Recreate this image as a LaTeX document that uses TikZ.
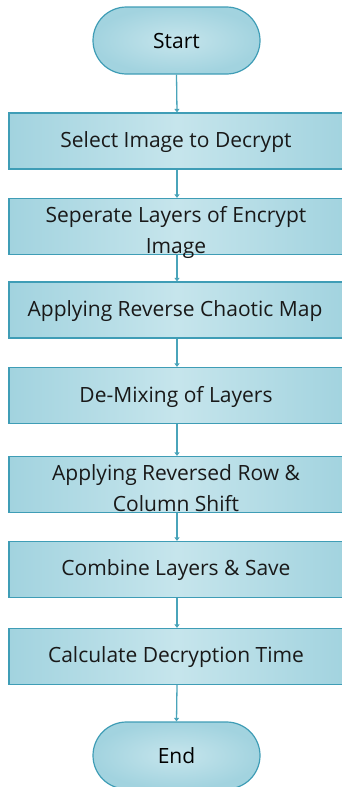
\documentclass[tikz,border=0pt]{standalone}
\usepackage{fontspec}
\setmainfont{Open Sans}
\usetikzlibrary{arrows.meta,shapes.misc}
\definecolor{edgeblue}{HTML}{3F9DB6}
\definecolor{fillmid}{HTML}{C6E5EC}
\definecolor{filledge}{HTML}{A2D3DF}
\definecolor{linkblue}{HTML}{4AA4BA}
\tikzset{
  stepbox/.style={draw=edgeblue, line width=1.2pt, rectangle,
    minimum width=336pt, minimum height=56pt, inner sep=0pt,
    left color=filledge, right color=filledge, middle color=fillmid},
  terminal/.style={draw=edgeblue, line width=1.2pt, rounded rectangle,
    minimum width=167pt, minimum height=67pt, inner sep=0pt,
    inner color=fillmid, outer color=filledge,
    font=\fontsize{21}{26}\selectfont},
  steptext/.style={align=center, inner sep=0pt,
    font=\fontsize{21}{31}\selectfont, text=black!90},
  link/.style={draw=linkblue, line width=1.3pt,
    -{Triangle[width=5pt,length=3.5pt]}}
}
\begin{document}
\begin{tikzpicture}[x=1pt,y=-1pt]
\useasboundingbox (0,0) rectangle (341,787);
% start / end terminals
\node[terminal] (start) at (176.5,40.5) {Start};
\node[terminal] (end) at (176.5,755.5) {End};
% process steps
\node[stepbox] (b1) at (177,141) {};
\node[stepbox] (b2) at (177,226.5) {};
\node[stepbox] (b3) at (177,310) {};
\node[stepbox] (b4) at (177,395.5) {};
\node[stepbox] (b5) at (177,484.5) {};
\node[stepbox] (b6) at (177,569.5) {};
\node[stepbox] (b7) at (177,656.5) {};
% connectors
\draw[link] (start.south) -- (b1.north);
\draw[link] (b1.south) -- (b2.north);
\draw[link] (b2.south) -- (b3.north);
\draw[link] (b3.south) -- (b4.north);
\draw[link] (b4.south) -- (b5.north);
\draw[link] (b5.south) -- (b6.north);
\draw[link] (b6.south) -- (b7.north);
\draw[link] (b7.south) -- (end.north);
% step labels
\node[steptext] (t1) at (176,142) {Select Image to Decrypt};
\node[steptext] (t2) at (176,232) {Seperate Layers of Encrypt\\Image};
\node[steptext] (t3) at (175,311) {Applying Reverse Chaotic Map};
\node[steptext] (t4) at (176,396.5) {De-Mixing of Layers};
\node[steptext] (t5) at (176,488) {Applying Reversed Row \&\\Column Shift};
\node[steptext] (t6) at (176,570.5) {Combine Layers \& Save};
\node[steptext] (t7) at (176,657.5) {Calculate Decryption Time};
\end{tikzpicture}
\end{document}
